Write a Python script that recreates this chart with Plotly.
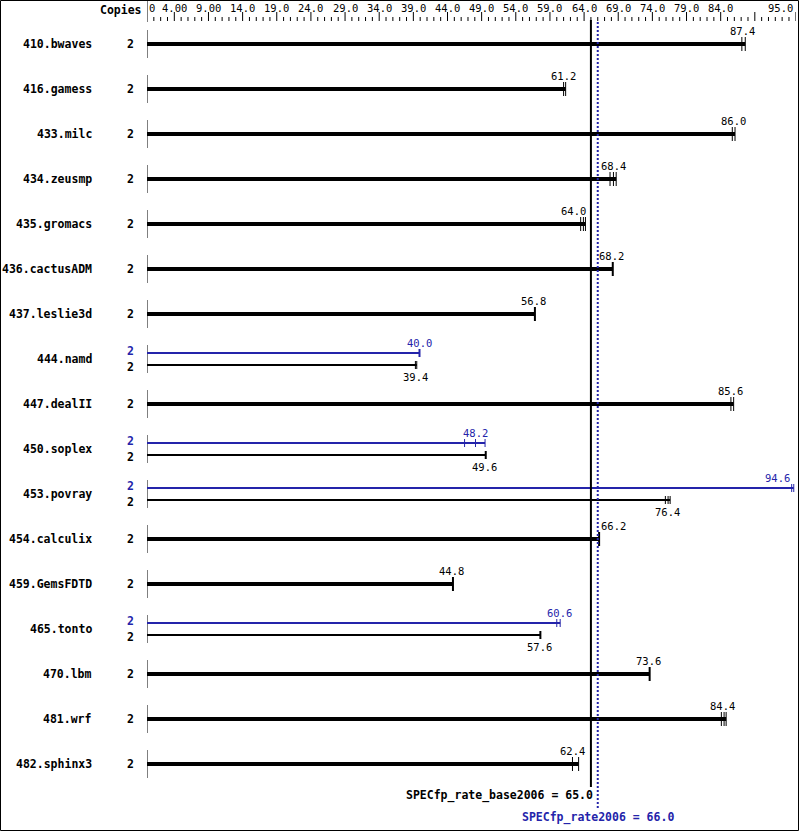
import plotly.graph_objects as go

W, H = 799, 831

benchmarks = ["410.bwaves", "416.gamess", "433.milc", "434.zeusmp", "435.gromacs",
              "436.cactusADM", "437.leslie3d", "444.namd", "447.dealII", "450.soplex",
              "453.povray", "454.calculix", "459.GemsFDTD", "465.tonto", "470.lbm",
              "481.wrf", "482.sphinx3"]
copies = [2] * 17
base_scores = [87.4, 61.2, 86.0, 68.4, 64.0, 68.2, 56.8, 39.4, 85.6, 49.6,
               76.4, 66.2, 44.8, 57.6, 73.6, 84.4, 62.4]
peak_scores = [None, None, None, None, None, None, None, 40.0, None, 48.2,
               94.6, None, None, 60.6, None, None, None]
base_runs = [[87.1, 87.6], [61.0, 61.3], [85.7, 86.1], [67.8, 68.3, 68.7],
             [63.5, 63.9, 64.2], [68.2], [56.8], [39.3, 39.5], [85.5, 85.9],
             [49.6], [75.9, 76.3, 76.6], [66.2], [44.8], [57.6], [73.6],
             [84.1, 84.5, 84.8], [62.3, 63.2]]
peak_runs = [None, None, None, None, None, None, None, [39.9], None,
             [46.5, 48.1, 49.5], [94.4, 94.7], None, None, [60.0, 60.5],
             None, None, None]
axis_ticks = [0, 4, 9, 14, 19, 24, 29, 34, 39, 44, 49, 54, 59, 64, 69, 74, 79, 84, 95]
axis_tick_labels = ["0", "4.00", "9.00", "14.0", "19.0", "24.0", "29.0", "34.0",
                    "39.0", "44.0", "49.0", "54.0", "59.0", "64.0", "69.0", "74.0",
                    "79.0", "84.0", "95.0"]
major_ticks = [4, 9, 14, 19, 24, 29, 34, 39, 44, 49, 54, 59, 64, 69, 74, 79, 84, 89, 95]
base_overall = 65.0
peak_overall = 66.0

BLACK = "#000000"
BLUE = "#2424aa"
MONO = "DejaVu Sans Mono"

X0_PX, X1_PX = 147, 795.8
PX_PER_UNIT = (X1_PX - X0_PX) / 95
ROW0, PITCH, SPLIT = 44, 45, 6

fig = go.Figure()


def segs(pairs):
    xs, ys = [], []
    for (xa, ya, xb, yb) in pairs:
        xs += [xa, xb, None]
        ys += [ya, yb, None]
    return xs, ys


def add_lines(pairs, color, width, dash="solid"):
    if not pairs:
        return
    xs, ys = segs(pairs)
    fig.add_trace(go.Scatter(x=xs, y=ys, mode="lines", hoverinfo="skip",
                             line=dict(color=color, width=width, dash=dash),
                             showlegend=False))


left_lines, thick_bars, thin_black, thin_blue = [], [], [], []
ticks_black_1, ticks_black_2, ticks_blue_1, ticks_blue_2 = [], [], [], []
annotations = []


def txt(x, y, text, color=BLACK, bold=False, anchor="center", size=10.5, xref="x", xshift=0):
    annotations.append(dict(x=x, y=y, xref=xref, yref="y", text=text, showarrow=False,
                            xanchor=anchor, yanchor="middle", xshift=xshift, borderpad=0,
                            font=dict(family=MONO, size=size, color=color,
                                      weight="bold" if bold else "normal")))


def score_label(v, y, color=BLACK):
    s = f"{v:.1f}"
    if abs(v - base_overall) * PX_PER_UNIT < 13:
        if v < base_overall:
            txt(base_overall, y, s, color=color, anchor="right", xshift=-4)
        else:
            txt(peak_overall, y, s, color=color, anchor="left", xshift=2)
    elif v > 92:
        txt(v, y, s, color=color, anchor="right", xshift=-2)
    else:
        txt(v, y, s, color=color, xshift=-1)


for i, name in enumerate(benchmarks):
    yc = ROW0 + i * PITCH
    left_lines.append((0, yc - 14, 0, yc + 14))
    txt(93 / W, yc, name, bold=True, anchor="right", size=11.5, xref="paper")
    if peak_scores[i] is None:
        runs = base_runs[i]
        thick_bars.append((0, yc, max(runs), yc))
        target = ticks_black_2 if len(runs) == 1 else ticks_black_1
        for r in runs:
            target.append((r, yc - 7, r, yc + 7))
        score_label(base_scores[i], yc - 13)
        txt(130 / W, yc, str(copies[i]), bold=True, size=11.5, xref="paper")
    else:
        yp, yb = yc - SPLIT, yc + SPLIT
        pr, br = peak_runs[i], base_runs[i]
        thin_blue.append((0, yp, max(pr), yp))
        thin_black.append((0, yb, max(br), yb))
        tgt = ticks_blue_2 if len(pr) == 1 else ticks_blue_1
        for r in pr:
            tgt.append((r, yp - 4, r, yp + 4))
        tgt = ticks_black_2 if len(br) == 1 else ticks_black_1
        for r in br:
            tgt.append((r, yb - 4, r, yb + 4))
        score_label(peak_scores[i], yp - 10, color=BLUE)
        score_label(base_scores[i], yb + 12)
        txt(130 / W, yc - 8, str(copies[i]), color=BLUE, bold=True, size=11.5, xref="paper")
        txt(130 / W, yc + 8, str(copies[i]), bold=True, size=11.5, xref="paper")

# top scale
scale = [(0, 0, 0, 22)]
for v in range(1, 96):
    if v in major_ticks:
        scale.append((v, 12, v, 21))
    else:
        scale.append((v, 17, v, 21))
for v, lab in zip(axis_ticks, axis_tick_labels):
    if v == 0:
        txt(v, 8, lab, anchor="left", xshift=1)
    elif v == axis_ticks[-1]:
        txt(v, 8, lab, anchor="right", xshift=-2)
    else:
        txt(v, 8, lab)
txt(143 / W, 10, "Copies", bold=True, anchor="right", size=11.5, xref="paper")

add_lines(left_lines, BLACK, 1)
add_lines(scale, BLACK, 1)
add_lines(thick_bars, BLACK, 4)
add_lines(thin_black, BLACK, 2)
add_lines(thin_blue, BLUE, 2)
add_lines(ticks_black_1, BLACK, 1)
add_lines(ticks_black_2, BLACK, 2)
add_lines(ticks_blue_1, BLUE, 1)
add_lines(ticks_blue_2, BLUE, 2)

# overall reference lines
add_lines([(base_overall, 20, base_overall, 787)], BLACK, 2)
add_lines([(peak_overall, 22, peak_overall, 808)], BLUE, 2, dash="2px,2px")
txt(base_overall, 795, f"SPECfp_rate_base2006 = {base_overall:.1f}", bold=True,
    anchor="right", size=11.5, xshift=3)
txt(peak_overall, 817, f"SPECfp_rate2006 = {peak_overall:.1f}", color=BLUE, bold=True,
    size=11.5)

fig.update_layout(
    width=W, height=H, margin=dict(l=0, r=0, t=0, b=0),
    paper_bgcolor="white", plot_bgcolor="white",
    xaxis=dict(range=[0, 95], domain=[X0_PX / W, X1_PX / W], visible=False, fixedrange=True),
    yaxis=dict(range=[H, 0], domain=[0, 1], visible=False, fixedrange=True),
    annotations=annotations,
    shapes=[dict(type="rect", xref="paper", yref="paper", x0=0.5 / W, x1=1 - 0.5 / W,
                 y0=0.5 / H, y1=1 - 0.5 / H, line=dict(color=BLACK, width=1))],
)
fig.write_html("out.html", config={"displayModeBar": False},
               post_script="document.body.style.margin='0';document.body.style.overflow='hidden';")
